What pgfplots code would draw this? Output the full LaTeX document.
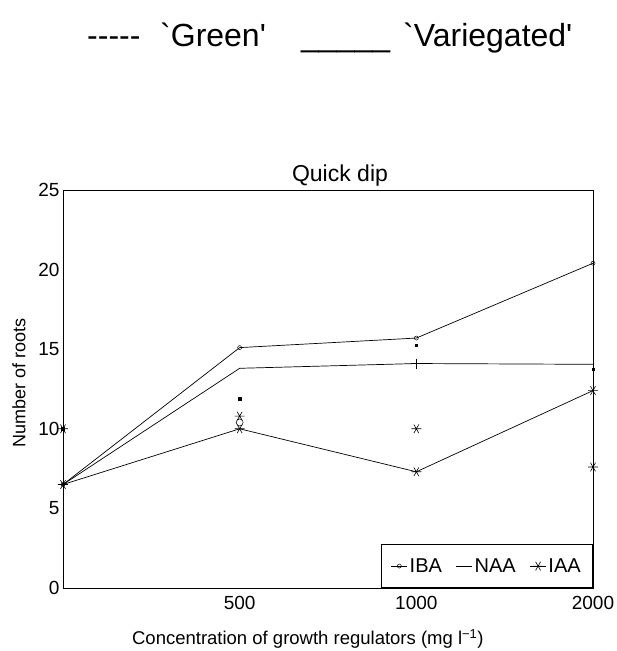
\documentclass[border=0pt]{standalone}
\usepackage{pgfplots}
\pgfplotsset{compat=1.18}
\usepackage{fontspec}
\setmainfont{Liberation Sans}
\newfontfamily\rawfont[Ligatures=TeXOff]{Liberation Sans}
\newcommand{\fs}[1]{\fontsize{#1}{#1}\selectfont}
\begin{document}
\begin{tikzpicture}[x=1pt,y=1pt]
\useasboundingbox (-63,-63) rectangle (554,588);
\begin{axis}[
  at={(0,0)}, anchor=south west,
  scale only axis, width=530pt, height=398pt,
  xmin=0, xmax=3, ymin=0, ymax=25,
  xtick={1,2,3}, xticklabels={500,1000,2000},
  ytick={0,5,10,15,20,25},
  major tick length=0pt,
  /pgf/number format/assume math mode=true,
  tick label style={font=\fs{19}},
  xticklabel style={yshift=-5pt},
  axis line style={line width=0.8pt},
  xlabel={Concentration of growth regulators (mg l\textsuperscript{−1})},
  ylabel={Number of roots},
  every axis x label/.style={at={([yshift=-51pt]axis description cs:0.462,0)}, anchor=center, font=\fs{18.5}},
  every axis y label/.style={at={([xshift=-44pt]axis description cs:0,0.515)}, anchor=center, rotate=90, font=\fs{18}},
  legend columns=3,
  legend style={at={(rel axis cs:1,0)}, anchor=south east, font=\fs{20},
    draw=black, line width=0.6pt, inner xsep=10pt, inner ysep=12pt,
    /tikz/every even column/.append style={column sep=12pt}},
  legend image code/.code={\draw[#1] (0pt,0pt) -- (16pt,0pt); \draw[#1] plot coordinates {(8pt,0pt)};},
]
% Variegated (solid)
\addplot[black, line width=0.7pt, mark=o, mark size=2pt, mark options={line width=0.5pt}]
  coordinates {(0,6.5) (1,15.1) (2,15.7) (3,20.4)};
\addlegendentry{IBA}
\addplot[black, line width=0.7pt, mark=none]
  coordinates {(0,6.5) (1,13.8) (2,14.1) (3,14.05)};
\addlegendentry{NAA}
\addplot[black, line width=0.7pt, mark=asterisk, mark size=5pt, mark options={rotate=90, line width=0.6pt}]
  coordinates {(0,6.5) (1,10.0) (2,7.3) (3,12.4)};
\addlegendentry{IAA}
% Green (dashed lines lost in the scan: marks only)
\addplot[black, only marks, mark=square*, mark size=1.3pt, forget plot]
  coordinates {(0,10.0) (1,11.9) (2,15.25) (3,13.75)};
\addplot[black, only marks, mark=o, mark size=3.5pt, mark options={line width=0.5pt}, forget plot]
  coordinates {(1,10.4)};
\addplot[black, only marks, mark=asterisk, mark size=5pt, mark options={rotate=90, line width=0.6pt}, forget plot]
  coordinates {(0,10.0) (1,10.8) (2,10.0) (3,7.6)};
\addplot[black, only marks, mark=+, mark size=5pt, mark options={line width=0.5pt}, forget plot]
  coordinates {(2,14.1)};
\end{axis}
\node[font=\fs{23}] at (277,412) {Quick dip};
\begin{scope}[every node/.style={inner sep=0pt, anchor=base west, font=\rawfont\fs{32}}]
\node at (24,541) {-{}-{}-{}-{}-};
\node at (97,541) {`Green'};
\node at (238,541) {\_\_\_\_\_};
\node at (340,541) {`Variegated'};
\end{scope}
\end{tikzpicture}
\end{document}
